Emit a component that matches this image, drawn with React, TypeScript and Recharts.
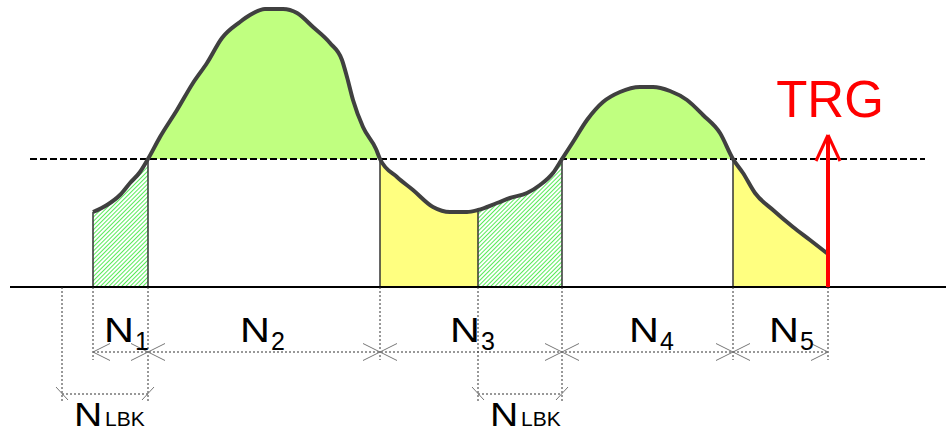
import { ComposedChart, Area, Line, XAxis, YAxis, ReferenceLine, ReferenceDot } from "recharts";

// signal samples: position along the record and level above the zero line
const xs = [93, 107, 120, 130, 140, 148, 160, 177, 193, 207, 222, 240, 250, 265, 283, 297, 313, 330, 342, 347, 353, 363, 376, 380, 397, 413, 433, 450, 467, 478, 497, 510, 527, 540, 553, 562, 573, 587, 603, 620, 640, 653, 670, 687, 703, 720, 733, 743, 755, 773, 793, 810, 828];
const level = [75, 82, 92, 104, 115, 128, 150, 177, 204, 224, 249, 265, 272, 278, 278, 274, 260, 244, 227, 210, 187, 160, 138, 128, 110, 97, 80, 75, 75, 77, 84, 89, 94, 102, 114, 128, 145, 167, 185, 195, 200, 200, 196, 187, 172, 154, 128, 114, 94, 77, 60, 47, 33];

const THRESHOLD = 128;
// region borders and what kind of fill each region gets
const cuts = [93, 148, 380, 478, 562, 733, 828];
const kinds = ["hatch", "peak", "yellow", "hatch", "peak", "yellow"];

// span labels N1..N5 under the record
const spanSubs = ["1", "2", "3", "4", "5"];
const spanX = [104, 240, 450, 629, 769];
const spanTicks = [148, 380, 562, 733];
// look-back spans (start, end)
const lbkSpans = [[62, 148], [478, 562]];
const lbkLabelX = [74, 490];
const shortExt = [93, 380, 733, 828];
const longExt = [62, 148, 478, 562];
const TRIGGER_X = 828;

const fills: Record<string, string> = { hatch: "url(#hatch)", peak: "#C0FF80", yellow: "#FFFF80" };

const data = xs.map((x, i) => {
  const row: Record<string, any> = { x, level: level[i] };
  kinds.forEach((k, r) => {
    const inside = x >= cuts[r] && x <= cuts[r + 1];
    row["r" + r] = inside ? [k === "peak" ? THRESHOLD : 0, level[i]] : null;
  });
  return row;
});

const levelAt = (x: number) => level[xs.indexOf(x)];

const font = "'Liberation Sans', Arial, sans-serif";
const DIM_Y = -65;
const LBK_Y = -107;
const dot = { stroke: "#333", strokeWidth: 1, strokeDasharray: "2 2" };
const grey = { stroke: "#777", strokeWidth: 1 };

function NLabel({ cx, cy, sub, size, subSize, subDy }: any) {
  return (
    <g fontFamily={font} fill="#000">
      <text transform={`translate(${cx},${cy}) scale(1.15,1)`} fontSize={size}>N</text>
      <text x={cx + 31} y={cy + subDy} fontSize={subSize}>{sub}</text>
    </g>
  );
}

export default function App() {
  return (
    <div style={{ position: "absolute", left: 0, top: 0, background: "#fff" }}>
      <ComposedChart width={946} height={434} data={data} margin={{ top: 0, right: 0, bottom: 0, left: 0 }}>
        <defs>
          <pattern id="hatch" width="3" height="3" patternUnits="userSpaceOnUse" patternTransform="rotate(45)">
            <rect width="3" height="3" fill="#fff" />
            <line x1="0" y1="0" x2="0" y2="3" stroke="#2EE62E" strokeWidth="1.6" />
          </pattern>
        </defs>
        <XAxis type="number" dataKey="x" domain={[0, 946]} allowDataOverflow hide />
        <YAxis type="number" domain={[-147, 287]} allowDataOverflow hide />

        {kinds.map((k, r) => (
          <Area
            key={"r" + r}
            dataKey={"r" + r}
            type="monotone"
            fill={fills[k]}
            fillOpacity={1}
            stroke="none"
            isAnimationActive={false}
            activeDot={false}
          />
        ))}

        {/* region borders */}
        {cuts.slice(0, 6).map((x) => (
          <ReferenceLine
            key={"b" + x}
            segment={[{ x, y: 0 }, { x, y: Math.min(levelAt(x), THRESHOLD) }]}
            stroke="#333"
            strokeWidth={1.5}
          />
        ))}

        {/* zero line and threshold */}
        <ReferenceLine segment={[{ x: 10, y: 0 }, { x: 946, y: 0 }]} stroke="#000" strokeWidth={2} />
        <ReferenceLine segment={[{ x: 30, y: THRESHOLD }, { x: 925, y: THRESHOLD }]} stroke="#000" strokeWidth={2} strokeDasharray="7 3" />

        {/* extension lines */}
        {shortExt.map((x) => (
          <ReferenceLine key={"se" + x} segment={[{ x, y: 0 }, { x, y: -73 }]} {...dot} />
        ))}
        {longExt.map((x) => (
          <ReferenceLine key={"le" + x} segment={[{ x, y: 0 }, { x, y: -116 }]} {...dot} />
        ))}

        {/* span dimension line */}
        <ReferenceLine segment={[{ x: 93, y: DIM_Y }, { x: 828, y: DIM_Y }]} {...dot} />
        <ReferenceLine segment={[{ x: 93, y: DIM_Y }, { x: 110, y: DIM_Y + 8.5 }]} {...grey} />
        <ReferenceLine segment={[{ x: 93, y: DIM_Y }, { x: 110, y: DIM_Y - 8.5 }]} {...grey} />
        <ReferenceLine segment={[{ x: 828, y: DIM_Y }, { x: 811, y: DIM_Y + 8.5 }]} {...grey} />
        <ReferenceLine segment={[{ x: 828, y: DIM_Y }, { x: 811, y: DIM_Y - 8.5 }]} {...grey} />
        {spanTicks.map((x) => [
          <ReferenceLine key={"ta" + x} segment={[{ x: x - 17, y: DIM_Y + 8.5 }, { x: x + 17, y: DIM_Y - 8.5 }]} {...grey} />,
          <ReferenceLine key={"tb" + x} segment={[{ x: x - 17, y: DIM_Y - 8.5 }, { x: x + 17, y: DIM_Y + 8.5 }]} {...grey} />,
        ])}

        {/* look-back dimension lines */}
        {lbkSpans.map(([a, b]) => [
          <ReferenceLine key={"l" + a} segment={[{ x: a, y: LBK_Y }, { x: b, y: LBK_Y }]} {...dot} />,
          <ReferenceLine key={"la" + a} segment={[{ x: a - 6, y: LBK_Y + 7 }, { x: a + 6, y: LBK_Y - 6 }]} {...grey} />,
          <ReferenceLine key={"lb" + a} segment={[{ x: b - 6, y: LBK_Y - 6 }, { x: b + 6, y: LBK_Y + 7 }]} {...grey} />,
        ])}

        {/* labels */}
        {spanSubs.map((s, i) => (
          <ReferenceDot
            key={"n" + s}
            x={spanX[i]}
            y={-55}
            r={0}
            shape={(p: any) => <NLabel cx={p.cx} cy={p.cy} sub={s} size={36} subSize={25} subDy={8} />}
          />
        ))}
        {lbkLabelX.map((x) => (
          <ReferenceDot
            key={"nl" + x}
            x={x}
            y={-139}
            r={0}
            shape={(p: any) => <NLabel cx={p.cx} cy={p.cy} sub="LBK" size={34} subSize={21} subDy={0} />}
          />
        ))}

        {/* the signal curve */}
        <Line dataKey="level" type="monotone" stroke="#404040" strokeWidth={4} dot={false} activeDot={false} isAnimationActive={false} />

        {/* trigger */}
        <ReferenceLine segment={[{ x: TRIGGER_X, y: 0 }, { x: TRIGGER_X, y: 150 }]} stroke="#FF0000" strokeWidth={4} />
        <ReferenceLine segment={[{ x: TRIGGER_X, y: 152 }, { x: 816, y: 126 }]} stroke="#FF0000" strokeWidth={3} />
        <ReferenceLine segment={[{ x: TRIGGER_X, y: 152 }, { x: 840, y: 126 }]} stroke="#FF0000" strokeWidth={3} />
        <ReferenceDot
          x={830}
          y={170}
          r={0}
          shape={(p: any) => (
            <text x={p.cx} y={p.cy} textAnchor="middle" fontFamily={font} fontSize={51} fill="#FF0000">TRG</text>
          )}
        />
      </ComposedChart>
    </div>
  );
}
